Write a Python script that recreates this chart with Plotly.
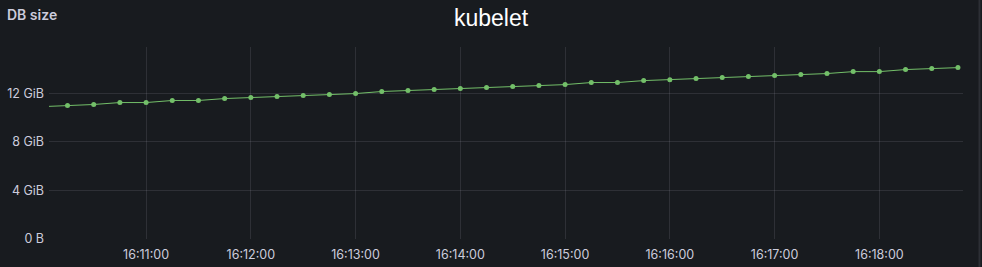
import plotly.graph_objects as go
import pandas as pd

# ---- data ----
times = pd.date_range("2024-01-01 16:10:00", "2024-01-01 16:18:45", freq="15s")
# DB size in GiB (first point lies just left of the visible window)
db_size_gib = [
    10.91,
    11.00, 11.09, 11.25, 11.25, 11.42, 11.42, 11.58, 11.66, 11.74, 11.83,
    11.91, 11.99, 12.16, 12.24, 12.32, 12.40, 12.49, 12.57, 12.65, 12.73,
    12.90, 12.90, 13.06, 13.14, 13.23, 13.31, 13.39, 13.47, 13.56, 13.64,
    13.80, 13.80, 13.97, 14.05, 14.13,
]
y_tick_vals = [0, 4, 8, 12]
y_tick_text = ["0 B", "4 GiB", "8 GiB", "12 GiB"]
x_range = ["2024-01-01 16:10:04.4", "2024-01-01 16:18:47.9"]
y_range = [0, 15.83]

BG = "#181b1f"
TXT = "#ccccdc"
GRID = "rgba(204,204,220,0.12)"
GREEN = "#73bf69"

fig = go.Figure()
fig.add_trace(go.Scatter(
    x=times, y=db_size_gib, mode="lines+markers",
    line=dict(color=GREEN, width=1),
    marker=dict(color=GREEN, size=5),
    cliponaxis=True,
    showlegend=False,
))

fig.update_layout(
    width=982, height=267,
    paper_bgcolor=BG, plot_bgcolor=BG,
    margin=dict(l=49, r=19, t=47, b=28, autoexpand=False),
    title=dict(text="kubelet", x=0.5, xanchor="center", xref="container",
               y=1 - 18 / 267, yanchor="middle", yref="container",
               font=dict(family="Liberation Sans, Arial", size=23, color="#ffffff")),
    font=dict(family="Inter", size=12.5, color=TXT),
    annotations=[dict(text="DB size", xref="paper", yref="paper",
                      x=(5 - 49) / 914, y=1 + (47 - 14) / 192, xanchor="left", yanchor="middle",
                      showarrow=False,
                      font=dict(family="Inter", size=14, color=TXT, weight=600))],
    shapes=[dict(type="line", xref="paper", yref="paper",
                 x0=1 + (979.5 - 963) / 914, x1=1 + (979.5 - 963) / 914, y0=-28 / 192, y1=1 + 47 / 192,
                 line=dict(color="#2c2f35", width=2))],
)
fig.update_xaxes(
    range=x_range, type="date", tickformat="%H:%M:%S", dtick=60000, automargin=False,
    showgrid=True, gridcolor=GRID, gridwidth=1, zeroline=False, showline=False,
    ticks="", ticklabelstandoff=6, tickfont=dict(family="Inter", size=12.5, color=TXT),
)
fig.update_yaxes(
    range=y_range, tickvals=y_tick_vals, ticktext=y_tick_text, automargin=False,
    showgrid=True, gridcolor=GRID, gridwidth=1, zeroline=False, showline=False,
    ticks="", ticklabelstandoff=4, tickfont=dict(family="Inter", size=12.5, color=TXT),
)

fig.write_html("out.html")
